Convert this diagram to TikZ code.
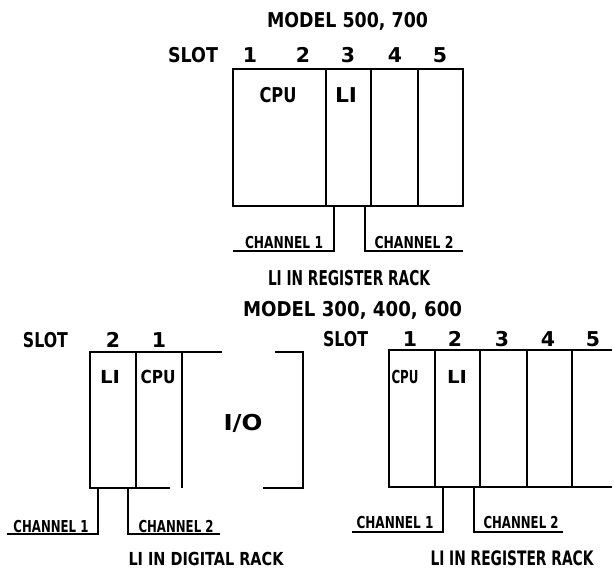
\documentclass[tikz,border=0pt]{standalone}
\usepackage{fontspec}
\usepackage{graphicx}
\newfontfamily\plotfont{DejaVu Sans}
\newsavebox\txbox
\newcommand\tx[3]{\begingroup\fontsize{#2}{#2}\selectfont\sbox\txbox{#3}%
  \pgfmathsetmacro\txf{(#1*1.00375)/\wd\txbox}%
  \scalebox{\txf}[1]{\usebox\txbox}\endgroup}
\newcommand\dg[2]{{\fontsize{#1}{#1}\selectfont #2}}
\tikzset{
  txt/.style={inner sep=0pt, anchor=base, font=\plotfont\bfseries},
  rack/.style={line width=1.2bp},
  chan/.style={line width=1.2bp},
}
\begin{document}
\begin{tikzpicture}[x=1bp,y=-1bp]
\useasboundingbox (0,0) rectangle (614,569);

% ---------- top: MODEL 500, 700 ----------
\node[txt] (m1) at (347.5,28) {\tx{161}{20.5}{MODEL 500, 700}};
\node[txt] (slotA) at (193,63) {\tx{50}{20.5}{SLOT}};
\node[txt] (a1) at (250,63) {\dg{20.5}{1}};
\node[txt] (a2) at (303,63) {\dg{20.5}{2}};
\node[txt] (a3) at (348,63) {\dg{20.5}{3}};
\node[txt] (a4) at (395,63) {\dg{20.5}{4}};
\node[txt] (a5) at (440,63) {\dg{20.5}{5}};
\draw[rack] (233,69) rectangle (463,206);
\draw[rack] (326,69) -- (326,206);
\draw[rack] (371,69) -- (371,206);
\draw[rack] (418,69) -- (418,206);
\node[txt] (cpuA) at (278,103) {\tx{37}{20.5}{CPU}};
\node[txt] (liA) at (346,103) {\tx{22}{20.5}{LI}};
\coordinate (A-o1) at (334,206);
\coordinate (A-o2) at (365,206);
\coordinate (A-e1) at (233,251);
\coordinate (A-e2) at (463,251);
\draw[chan] (A-o1) |- (A-e1);
\draw[chan] (A-o2) |- (A-e2);
\node[txt] (ch1A) at (284,248) {\tx{78}{16.5}{CHANNEL 1}};
\node[txt] (ch2A) at (414,248) {\tx{79}{16.5}{CHANNEL 2}};
\node[txt] (capA) at (349,285) {\tx{162}{20.5}{LI IN REGISTER RACK}};

% ---------- MODEL 300, 400, 600 ----------
\node[txt] (m2) at (352.5,316) {\tx{219}{20.5}{MODEL 300, 400, 600}};

% ---------- bottom left: digital rack ----------
\node[txt] (slotB) at (45.5,347) {\tx{45}{20.5}{SLOT}};
\node[txt] (b2) at (113,347) {\dg{20.5}{2}};
\node[txt] (b1) at (159,347) {\dg{20.5}{1}};
\draw[rack] (222,352) -- (90,352) -- (90,488) -- (170,488);
\draw[rack] (136,352) -- (136,488);
\draw[rack] (182,352) -- (182,488);
\draw[rack] (275,352) -- (303,352) -- (303,488) -- (263,488);
\node[txt] (liB) at (110,383) {\tx{20}{18}{LI}};
\node[txt] (cpuB) at (158,383) {\tx{35}{18}{CPU}};
\node[txt] (io) at (243,430) {\tx{39}{22}{I/O}};
\coordinate (B-o1) at (98,488);
\coordinate (B-o2) at (128,488);
\coordinate (B-e1) at (7,534);
\coordinate (B-e2) at (220,534);
\draw[chan] (B-o1) |- (B-e1);
\draw[chan] (B-o2) |- (B-e2);
\node[txt] (ch1B) at (51,532) {\tx{75}{16.5}{CHANNEL 1}};
\node[txt] (ch2B) at (176,532) {\tx{75}{16.5}{CHANNEL 2}};
\node[txt] (capB) at (206,565) {\tx{155}{18}{LI IN DIGITAL RACK}};

% ---------- bottom right: register rack ----------
\node[txt] (slotC) at (345.5,346) {\tx{45}{20.5}{SLOT}};
\node[txt] (c1) at (410,346) {\dg{20.5}{1}};
\node[txt] (c2) at (455,346) {\dg{20.5}{2}};
\node[txt] (c3) at (502,346) {\dg{20.5}{3}};
\node[txt] (c4) at (548,346) {\dg{20.5}{4}};
\node[txt] (c5) at (593,346) {\dg{20.5}{5}};
\draw[rack] (612,350) -- (389,350) -- (389,487) -- (612,487);
\draw[rack] (435,350) -- (435,487);
\draw[rack] (480,350) -- (480,487);
\draw[rack] (527,350) -- (527,487);
\draw[rack] (572,350) -- (572,487);
\node[txt] (cpuC) at (405,383) {\tx{27}{18}{CPU}};
\node[txt] (liC) at (457,383) {\tx{20}{18}{LI}};
\coordinate (C-o1) at (443,487);
\coordinate (C-o2) at (474,487);
\coordinate (C-e1) at (352,532);
\coordinate (C-e2) at (563,532);
\draw[chan] (C-o1) |- (C-e1);
\draw[chan] (C-o2) |- (C-e2);
\node[txt] (ch1C) at (395,528) {\tx{77}{16.5}{CHANNEL 1}};
\node[txt] (ch2C) at (521,528) {\tx{75}{16.5}{CHANNEL 2}};
\node[txt] (capC) at (512,565) {\tx{163}{20}{LI IN REGISTER RACK}};
\end{tikzpicture}
\end{document}
